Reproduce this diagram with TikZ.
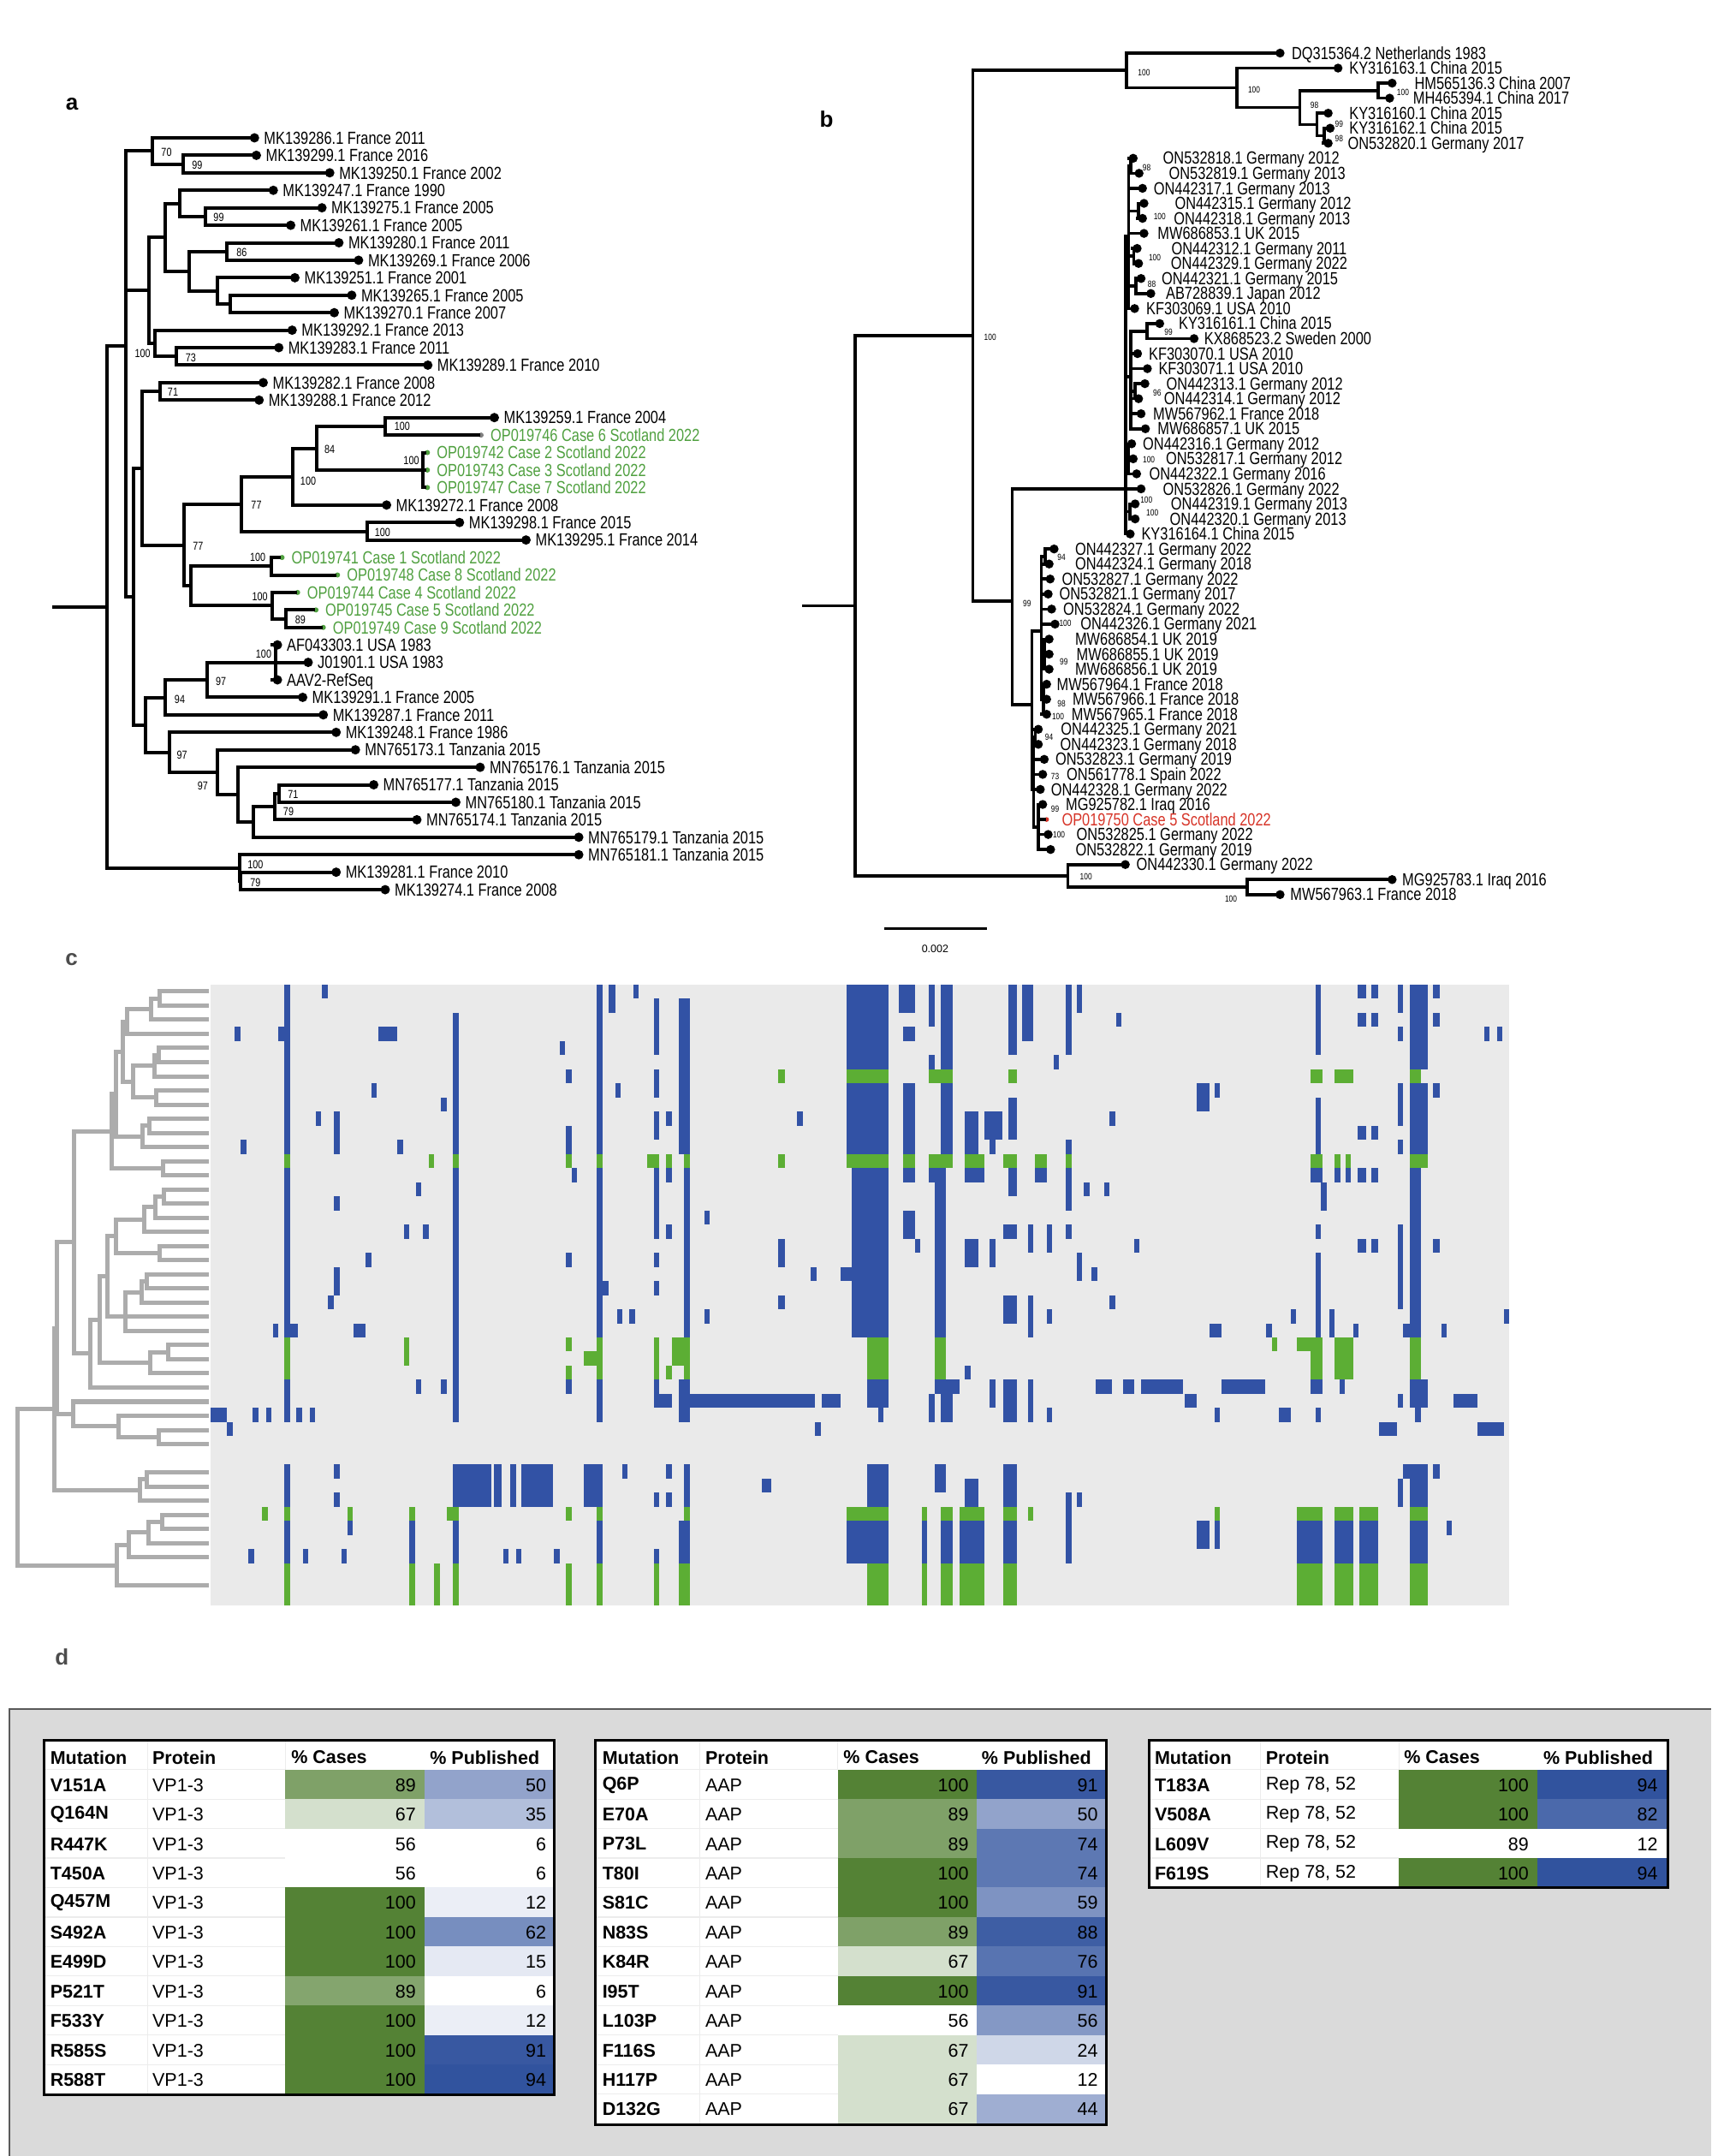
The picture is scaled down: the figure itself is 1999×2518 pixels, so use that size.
\documentclass[tikz,border=0pt]{standalone}
\usepackage{fontspec}
\setmainfont{Liberation Sans}
\newfontfamily\narrowfont[FakeStretch=0.8]{Liberation Sans}
\usetikzlibrary{positioning}

\definecolor{treegreen}{RGB}{80,160,64}
\definecolor{casered}{RGB}{214,52,40}
\definecolor{hblue}{RGB}{50,82,165}
\definecolor{hgreen}{RGB}{92,174,52}
\definecolor{hbg}{RGB}{234,234,234}
\definecolor{dendgray}{RGB}{172,172,172}
\definecolor{casegreen}{RGB}{84,130,53}
\definecolor{pubblue}{RGB}{36,72,152}
\definecolor{boxgray}{RGB}{218,218,218}

\tikzset{
  abranch/.style={line width=4pt, line cap=rect},
  bbranch/.style={line width=3.6pt, line cap=rect},
  cbranch/.style={draw=dendgray, line width=5pt, line cap=rect},
  adot/.style={circle, fill=black, inner sep=0pt, minimum size=11pt},
  gdot/.style={circle, fill=treegreen, inner sep=0pt, minimum size=6pt},
  bdot/.style={circle, fill=black, inner sep=0pt, minimum size=10.5pt},
  leafa/.style={font=\narrowfont\fontsize{20.5}{24}\selectfont, anchor=west, inner sep=0.5pt, text height=16.5pt, text depth=2pt},
  leafb/.style={font=\narrowfont\fontsize{20.5}{24}\selectfont, anchor=west, inner sep=0.3pt, text height=15.5pt, text depth=1.4pt},
  bsa/.style={font=\narrowfont\fontsize{13.5}{16}\selectfont, inner sep=0.75pt},
  bsb/.style={font=\narrowfont\fontsize{10.5}{12}\selectfont, inner sep=0.5pt},
  panellab/.style={font=\bfseries\fontsize{26}{30}\selectfont, inner sep=0.75pt},
  tcell/.style={font=\fontsize{21.5}{25}\selectfont, inner sep=0.75pt},
  tbold/.style={font=\bfseries\fontsize{21.5}{25}\selectfont, inner sep=0.75pt},
}

\begin{document}
\begin{tikzpicture}[x=1pt,y=1pt,yscale=-1]
\useasboundingbox (0,0) rectangle (1999,2518);

%%%%%%%%%%%%%%%%%%%%%%%%%%%%%%%% panel a
\node[panellab] (laba) at (84,122) {a};

% leaves
\foreach \i/\x/\lab in {1/297.3/MK139286.1 France 2011, 2/299.5/MK139299.1 France 2016, 3/385.2/MK139250.1 France 2002, 4/319.3/MK139247.1 France 1990, 5/376.1/MK139275.1 France 2005, 6/339.6/MK139261.1 France 2005, 7/395.9/MK139280.1 France 2011, 8/418.9/MK139269.1 France 2006, 9/344.5/MK139251.1 France 2001, 10/410.9/MK139265.1 France 2005, 11/390.5/MK139270.1 France 2007, 12/341.3/MK139292.1 France 2013, 13/325.7/MK139283.1 France 2011, 14/499.8/MK139289.1 France 2010, 15/307.5/MK139282.1 France 2008, 16/302.7/MK139288.1 France 2012, 17/577.5/MK139259.1 France 2004, 22/451.6/MK139272.1 France 2008, 23/536.8/MK139298.1 France 2015, 24/614.5/MK139295.1 France 2014, 30/324.1/AF043303.1 USA 1983, 31/360/J01901.1 USA 1983, 32/324.1/AAV2-RefSeq, 33/353.6/MK139291.1 France 2005, 34/377.7/MK139287.1 France 2011, 35/392.7/MK139248.1 France 1986, 36/415.2/MN765173.1 Tanzania 2015, 37/560.9/MN765176.1 Tanzania 2015, 38/436.6/MN765177.1 Tanzania 2015, 39/532.5/MN765180.1 Tanzania 2015, 40/487/MN765174.1 Tanzania 2015, 41/676.1/MN765179.1 Tanzania 2015, 42/676.1/MN765181.1 Tanzania 2015, 43/392.7/MK139281.1 France 2010, 44/450/MK139274.1 France 2008}
{
  \node[adot] (a\i) at (\x,{161+20.42*(\i-1)}) {};
  \node[leafa, right=4.7pt of a\i] (ta\i) {\lab};
}
% Scottish cases
\foreach \i/\x/\dc/\lab in {18/562/gray/OP019746 Case 6 Scotland 2022, 19/499.3/treegreen/OP019742 Case 2 Scotland 2022, 20/499.3/treegreen/OP019743 Case 3 Scotland 2022, 21/499.3/treegreen/OP019747 Case 7 Scotland 2022, 25/329.5/treegreen/OP019741 Case 1 Scotland 2022, 26/394.3/treegreen/OP019748 Case 8 Scotland 2022, 27/347.7/treegreen/OP019744 Case 4 Scotland 2022, 28/369.1/treegreen/OP019745 Case 5 Scotland 2022, 29/377.7/treegreen/OP019749 Case 9 Scotland 2022}
{
  \node[gdot, fill=\dc] (a\i) at (\x,{161+20.42*(\i-1)}) {};
  \node[leafa, text=treegreen, right=7.2pt of a\i] (ta\i) {\lab};
}

% internal nodes
\coordinate (ar0) at (62.7,708.8);
\coordinate (ar) at (125.4,708.8);
\coordinate (an163) at (147.3,404);
\coordinate (an220) at (177.9,176.3);
\coordinate (an287) at (213.7,191.6);
\coordinate (an213) at (174.1,339.1);
\coordinate (an248) at (192.9,277.2);
\coordinate (an280) at (210,237.6);
\coordinate (an335) at (239.5,252.9);
\coordinate (an300) at (220.7,316.7);
\coordinate (an383) at (265.2,293.7);
\coordinate (an362) at (253.9,339.7);
\coordinate (an390) at (268.9,355);
\coordinate (an225) at (180.5,401);
\coordinate (an272) at (205.7,416.3);
\coordinate (an180) at (156.4,696.7);
\coordinate (an197) at (165.5,546.8);
\coordinate (an237) at (187,457.1);
\coordinate (an290) at (215.4,636.5);
\coordinate (an415) at (282.3,588.6);
\coordinate (an527) at (342.3,556.7);
\coordinate (an578) at (369.6,523.5);
\coordinate (an727) at (449.5,497.9);
\coordinate (an818) at (494,549);
\coordinate (an688) at (428.6,620.5);
\coordinate (an305) at (223.4,684.3);
\coordinate (an480) at (317.1,661.3);
\coordinate (an482) at (318.2,707.3);
\coordinate (an512) at (334.3,722.6);
\coordinate (an205) at (169.8,846.6);
\coordinate (an248b) at (192.9,814.5);
\coordinate (an340) at (242.1,794);
\coordinate (an493) at (321.5,773.6);
\coordinate (an257) at (197.7,878.6);
\coordinate (an362b) at (253.9,901.9);
\coordinate (an407) at (278,928);
\coordinate (an440) at (295.7,960);
\coordinate (an487) at (320.9,942.1);
\coordinate (an497) at (326.2,926.8);
\coordinate (an410) at (279.6,1013.6);
\coordinate (an413) at (281.2,1028.9);

\draw[abranch] (ar0) -- (ar);
\foreach \p/\ch in {ar/an163, ar/an410, an163/an220, an163/an213, an163/an180, an220/a1, an220/an287, an287/a2, an287/a3, an213/an248, an213/an225, an248/an280, an248/an300, an280/a4, an280/an335, an335/a5, an335/a6, an300/an383, an300/an362, an383/a7, an383/a8, an362/a9, an362/an390, an390/a10, an390/a11, an225/a12, an225/an272, an272/a13, an272/a14, an180/an197, an180/an205, an197/an237, an197/an290, an237/a15, an237/a16, an290/an415, an290/an305, an415/an527, an415/an688, an527/an578, an527/a22, an578/an727, an578/an818, an727/a17, an727/a18, an818/a19, an818/a20, an818/a21, an688/a23, an688/a24, an305/an480, an305/an482, an480/a25, an480/a26, an482/a27, an482/an512, an512/a28, an512/a29, an205/an248b, an205/an257, an248b/an340, an248b/a34, an340/an493, an340/a33, an493/a30, an493/a31, an493/a32, an257/a35, an257/an362b, an362b/a36, an362b/an407, an407/a37, an407/an440, an440/an487, an440/a41, an487/an497, an487/a40, an497/a38, an497/a39, an410/a42, an410/an413, an413/a43, an413/a44}
  \draw[abranch] (\p) |- (\ch);

% bootstrap values
\foreach \x/\y/\v [count=\n] in {194.5/177.7/70, 230.4/193/99, 255.5/254/99, 282.3/295/86, 166.6/413.3/100, 222.9/418.3/73, 202/458.3/71, 469.8/498.3/100, 480.5/538.3/100, 385.2/525/84, 360/561.7/100, 299.5/590/77, 446.8/621.7/100, 231.4/638.3/77, 301.1/651/100, 303.7/696.7/100, 350.9/724/89, 308/764/100, 258.2/796/97, 210/816.7/94, 212.7/881.7/97, 236.8/918.3/97, 337/947.7/79, 342.3/928.3/71, 298.4/1010/100, 298.4/1030.7/79}
  \node[bsa] (ba\n) at (\x,\y) {\v};

%%%%%%%%%%%%%%%%%%%%%%%%%%%%%%%% panel b
\node[panellab] (labb) at (965.6,139) {b};

\foreach \i/\x/\tx/\lab in {1/1495.4/1508.6/DQ315364.2 Netherlands 1983, 2/1563.1/1575.8/KY316163.1 China 2015, 3/1626.3/1652.1/HM565136.3 China 2007, 4/1623.4/1650.4/MH465394.1 China 2017, 5/1551.6/1575.8/KY316160.1 China 2015, 6/1553.9/1575.8/KY316162.1 China 2015, 7/1551.6/1574/ON532820.1 Germany 2017, 8/1323.8/1358.2/ON532818.1 Germany 2012, 9/1330.7/1365.1/ON532819.1 Germany 2013, 10/1334.7/1347.3/ON442317.1 Germany 2013, 11/1336.4/1372/ON442315.1 Germany 2012, 12/1334.7/1370.8/ON442318.1 Germany 2013, 13/1336.4/1351.9/MW686853.1 UK 2015, 14/1328.4/1368/ON442312.1 Germany 2011, 15/1330.1/1367.4/ON442329.1 Germany 2022, 16/1333/1356.5/ON442321.1 Germany 2015, 17/1344.4/1361.6/AB728839.1 Japan 2012, 18/1325.5/1338.7/KF303069.1 USA 2010, 19/1354.8/1376.6/KY316161.1 China 2015, 20/1394.9/1406.4/KX868523.2 Sweden 2000, 21/1328.9/1341.6/KF303070.1 USA 2010, 22/1340.4/1353/KF303071.1 USA 2010, 23/1337.5/1362.2/ON442313.1 Germany 2012, 24/1330.1/1359.4/ON442314.1 Germany 2012, 25/1333/1346.7/MW567962.1 France 2018, 26/1338.1/1351.9/MW686857.1 UK 2015, 27/1322/1334.7/ON442316.1 Germany 2012, 28/1323.8/1361.6/ON532817.1 Germany 2012, 29/1327.8/1342.1/ON442322.1 Germany 2016, 30/1333/1358.2/ON532826.1 Germany 2022, 31/1326.1/1367.4/ON442319.1 Germany 2013, 32/1326.1/1366.2/ON442320.1 Germany 2013, 33/1320.3/1333/KY316164.1 China 2015, 34/1231.4/1255.5/ON442327.1 Germany 2022, 35/1225.6/1255.5/ON442324.1 Germany 2018, 36/1226.8/1240/ON532827.1 Germany 2022, 37/1224.5/1237.1/ON532821.1 Germany 2017, 38/1228.5/1241.7/ON532824.1 Germany 2022, 39/1232.5/1261.8/ON442326.1 Germany 2021, 40/1225.6/1255.5/MW686854.1 UK 2019, 41/1225.6/1257.2/MW686855.1 UK 2019, 42/1225.6/1255.5/MW686856.1 UK 2019, 43/1222.7/1234.2/MW567964.1 France 2018, 44/1222.7/1252.6/MW567966.1 France 2018, 45/1222.7/1251.4/MW567965.1 France 2018, 46/1213/1238.8/ON442325.1 Germany 2021, 47/1213/1238.2/ON442323.1 Germany 2018, 48/1219.9/1232.5/ON532823.1 Germany 2019, 49/1218.1/1245.7/ON561778.1 Spain 2022, 50/1215.3/1227.3/ON442328.1 Germany 2022, 51/1218.1/1244.6/MG925782.1 Iraq 2016, 53/1224.5/1257.2/ON532825.1 Germany 2022, 54/1227.3/1256/ON532822.1 Germany 2019, 55/1314.6/1327.2/ON442330.1 Germany 2022, 56/1626.3/1637.7/MG925783.1 Iraq 2016, 57/1495.4/1506.9/MW567963.1 France 2018}
{
  \node[bdot] (b\i) at (\x,{62+17.55*(\i-1)}) {};
  \node[leafb] (tb\i) at (\tx,{62+17.55*(\i-1)}) {\lab};
}
\node[circle, fill=casered, inner sep=0pt, minimum size=5.5pt] (b52) at (1222.7,957.1) {};
\node[leafb, text=casered] (tb52) at (1240,957.1) {OP019750 Case 5 Scotland 2022};

\coordinate (br0) at (938.6,707.3);
\coordinate (br) at (998.9,707.3);
\coordinate (bA) at (1136.6,391.7);
\coordinate (bB) at (1315.7,82);
\coordinate (bC) at (1444.9,102.7);
\coordinate (bD) at (1518.4,125.4);
\coordinate (bE) at (1610.2,105.9);
\coordinate (bF) at (1538.4,145.4);
\coordinate (bG) at (1547,158.5);
\coordinate (bH) at (1182.6,701.7);
\coordinate (bI) at (1315,571);
\coordinate (bJ) at (1318.5,276);
\coordinate (bq1) at (1321,193.6);
\coordinate (bq2) at (1330,246.3);
\coordinate (bq3) at (1324.5,298.9);
\coordinate (bq4) at (1327,334);
\coordinate (bK) at (1321,440);
\coordinate (bq5) at (1340,386.7);
\coordinate (bq6) at (1326,456.9);
\coordinate (bq7) at (1318.5,535.9);
\coordinate (bq8) at (1320,597.3);
\coordinate (bL) at (1205.5,822.7);
\coordinate (bM) at (1216.5,737);
\coordinate (bq9) at (1221,649.9);
\coordinate (bq11) at (1220,764);
\coordinate (bq12) at (1219,816.7);
\coordinate (bN) at (1207.5,922);
\coordinate (bq13) at (1209.5,860.5);
\coordinate (bq14) at (1213,965.8);
\coordinate (bR) at (1247.4,1022.9);
\coordinate (bS) at (1457,1036);

\draw[bbranch] (br0) -- (br);
\foreach \p/\ch in {br/bA, br/bR, bA/bB, bA/bH, bB/b1, bB/bC, bC/b2, bC/bD, bD/bE, bD/bF, bE/b3, bE/b4, bF/b5, bF/bG, bG/b6, bG/b7, bH/bI, bH/bL, bI/bJ, bI/bK, bI/bq7, bI/b30, bI/bq8, bI/b33, bJ/bq1, bJ/b10, bJ/bq2, bJ/b13, bJ/bq3, bJ/bq4, bJ/b18, bq1/b8, bq1/b9, bq2/b11, bq2/b12, bq3/b14, bq3/b15, bq4/b16, bq4/b17, bK/bq5, bK/b21, bK/b22, bK/bq6, bK/b25, bK/b26, bq5/b19, bq5/b20, bq6/b23, bq6/b24, bq7/b27, bq7/b28, bq7/b29, bq8/b31, bq8/b32, bL/bM, bL/bN, bM/bq9, bM/b36, bM/b37, bM/b38, bM/b39, bM/bq11, bM/bq12, bq9/b34, bq9/b35, bq11/b40, bq11/b41, bq11/b42, bq12/b43, bq12/b44, bq12/b45, bN/bq13, bN/b48, bN/b49, bN/b50, bN/bq14, bq13/b46, bq13/b47, bq14/b51, bq14/b52, bq14/b53, bq14/b54, bR/b55, bR/bS, bS/b56, bS/b57}
  \draw[bbranch] (\p) |- (\ch);

\foreach \x/\y/\v [count=\n] in {1156.7/393.5/100, 1336.4/84.5/100, 1465/104.5/100, 1638.9/107.4/100, 1535.6/122.7/98, 1564.3/144.5/99, 1564.3/161.6/98, 1339.5/195.5/98, 1354.8/252.5/100, 1349/300.8/100, 1345.6/331.7/88, 1365.1/388/99, 1351.9/459/96, 1342.1/537.1/100, 1339.3/584.3/100, 1346.2/599.3/100, 1199.8/704.4/99, 1240/651/94, 1244.5/727.7/100, 1242.8/773.3/99, 1240/821.7/98, 1236/836.9/100, 1225.6/860.5/94, 1232.5/907.2/73, 1232.5/944.4/99, 1237.1/974.8/100, 1268.7/1023.5/100, 1438/1049.8/100}
  \node[bsb] (bb\n) at (\x,\y) {\v};

% scale bar
\coordinate (sb1) at (1033.3,1084.6);
\coordinate (sb2) at (1152.7,1084.6);
\draw[line width=3.4pt] (sb1) -- (sb2);
\node[font=\fontsize{12.5}{14}\selectfont, inner sep=0.75pt] (sblab) at (1092.4,1107.7) {0.002};

%%%%%%%%%%%%%%%%%%%%%%%%%%%%%%%% panel c
\node[panellab, text=black!70] (labc) at (83.5,1121) {c};

% heatmap
\fill[hbg] (245.5,1150) rectangle (1763.3,1875.1);
\foreach \xa/\xb/\ra/\rb in {332.3/339.3/0/11, 332.3/339.3/13/24, 332.3/339.3/28/30, 332.3/339.3/34/36, 332.3/339.3/38/40, 376.3/382.7/0/0, 274.3/280.6/3/3, 325.3/339.3/3/3, 442/463.7/3/3, 245.5/264.7/30/30, 264.7/272.3/31/31, 280.6/288.3/11/11, 295.3/301.7/30/30, 310.6/317/30/30, 346.3/352.7/30/30, 361.6/368/30/30, 368.6/375/9/9, 390.3/396.7/9/11, 390.3/396.7/15/15, 390.3/396.7/20/21, 383/390.3/22/22, 433.7/440/7/7, 464.3/470.7/11/11, 427.3/433.7/19/19, 472/478.3/17/17, 486/492.4/14/14, 486/492.4/28/28, 494.3/500.7/17/17, 515.3/521.7/8/8, 515.3/521.7/28/28, 318.9/325.3/24/24, 339.3/347.6/24/24, 413.3/427.3/24/24, 529.4/535.8/2/11, 529.4/535.8/13/30, 529.4/535.8/38/40, 529.4/574/34/36, 577.2/585.5/34/36, 596.3/602.7/34/36, 609/645.5/34/36, 390.3/396.7/34/34, 390.3/396.7/36/36, 405.6/412/38/38, 478.3/484.7/38/40, 290.2/296.6/40/40, 354/360.4/40/40, 398.6/405/40/40, 588/594.4/40/40, 602.7/609.1/40/40, 647.4/653.7/40/40, 653.7/660.1/4/4, 661.4/667.8/6/6, 661.4/667.8/10/11, 667.8/674.2/13/13, 661.4/667.8/19/19, 661.4/667.8/28/28, 697/704.1/0/11, 697/704.1/13/24, 697/704.1/28/30, 701.6/711.2/21/21, 682.4/704.1/34/36, 697/704.1/38/40, 711/718.8/0/1, 739.8/746.2/0/0, 718.8/725.2/7/7, 720.7/727.1/23/23, 735.4/741.8/23/23, 727.1/733.4/34/34, 763.5/769.8/1/4, 763.5/769.8/6/7, 763.5/769.8/9/10, 763.5/769.8/13/17, 763.5/769.8/19/19, 763.5/769.8/21/21, 763.5/769.8/28/29, 763.5/769.8/36/36, 763.5/769.8/40/40, 778.1/784.5/9/9, 778.1/784.5/13/13, 778.1/784.5/17/17, 770/784.5/29/29, 778.1/784.5/34/34, 778.1/784.5/36/36, 792.8/805.5/1/11, 799/805.5/13/24, 792.8/805.5/28/30, 799/805.5/34/36, 792.8/805.5/38/40, 805.5/952.2/29/29, 960/982/29/29, 822.8/829.2/16/16, 822.8/829.2/23/23, 908.9/916.5/18/19, 908.9/916.5/22/22, 931.2/937.5/9/9, 947.2/953.5/20/20, 952.2/958.6/31/31, 982.2/1000/20/20, 889.7/901.2/35/35, 988.6/1038.2/0/5, 988.6/1038.2/7/11, 995/1038.2/13/24, 1012.7/1038.2/28/29, 1025.5/1032/30/30, 1012.7/1038.2/34/36, 988.6/1038.2/38/40, 1049.7/1068.8/0/1, 1055.1/1068.8/3/3, 1055.1/1068.8/7/11, 1055.1/1068.8/13/13, 1055.1/1068.8/16/17, 1068.8/1075.2/18/18, 1076.5/1082.8/38/40, 1084.7/1092.4/0/2, 1084.7/1092.4/5/5, 1084.7/1092.4/13/13, 1084.7/1092.4/29/30, 1098.8/1113.4/0/11, 1092.4/1105.1/13/24, 1092.4/1121/28/28, 1098.8/1113.4/29/30, 1092.4/1105.1/34/35, 1098.8/1113.4/38/40, 1127.4/1143.3/9/11, 1127.4/1149.7/13/13, 1127.4/1143.3/18/19, 1127.4/1133.8/27/27, 1127.4/1143.3/35/36, 1121/1149.7/38/40, 1149.7/1170.7/9/10, 1156.1/1162.5/11/11, 1156.1/1162.5/18/19, 1156.1/1162.5/28/29, 1178.4/1188/0/4, 1178.4/1188/8/10, 1178.4/1188/13/14, 1172/1188/17/17, 1172/1188/22/23, 1172/1188/28/30, 1172/1188/34/36, 1172/1188/38/40, 1194.3/1207.1/0/3, 1200.7/1207.1/17/18, 1200.7/1207.1/22/24, 1200.7/1207.1/28/30, 1209/1223/13/13, 1223/1229.4/17/18, 1223/1229.4/23/23, 1223/1229.4/30/30, 1230.6/1237/5/5, 1245.3/1251.7/0/4, 1245.3/1251.7/11/11, 1245.3/1251.7/13/15, 1245.3/1251.7/17/17, 1245.3/1251.7/36/40, 1258/1264.4/0/1, 1258/1264.4/19/20, 1258/1264.4/36/36, 1266.3/1272.7/14/14, 1290/1296.3/14/14, 1275.2/1281.6/20/20, 1296.3/1302.6/9/9, 1296.3/1302.6/22/22, 1303.9/1310.3/2/2, 1325/1331.3/18/18, 1280/1299.4/28/28, 1312/1325/28/28, 1332.6/1382.3/28/28, 1383.5/1398.2/29/29, 1426.9/1477.8/28/28, 1419/1425/30/30, 1493.8/1507.8/30/30, 1398.2/1412.8/7/8, 1419/1425/7/7, 1412.8/1426.9/24/24, 1398.2/1412.8/38/39, 1419/1425/38/39, 1479/1485.5/24/24, 1507.8/1514.1/23/23, 1514.8/1544.7/38/40, 1537/1543.4/0/4, 1537/1543.4/8/11, 1531/1544.7/13/13, 1543.4/1550/14/15, 1537/1543.4/17/17, 1537/1543.4/19/24, 1531/1544.7/28/28, 1537/1543.4/30/30, 1553/1559.4/23/24, 1558.7/1566/13/13, 1572/1578/13/13, 1565/1571/28/28, 1558.7/1581/38/40, 1581/1587.4/24/24, 1586.1/1595.7/0/0, 1586.1/1595.7/2/2, 1586.1/1595.7/10/10, 1586.1/1595.7/13/13, 1586.1/1595.7/18/18, 1602/1609.7/0/0, 1602/1609.7/2/2, 1602/1609.7/10/10, 1602/1609.7/13/13, 1602/1609.7/18/18, 1588/1609.7/38/40, 1611/1632/31/31, 1632.6/1639/0/1, 1632.6/1639/3/3, 1632.6/1639/7/9, 1632.6/1639/11/11, 1632.6/1639/17/22, 1632.6/1639/29/29, 1632.6/1639/35/36, 1639/1646.7/24/24, 1639/1646.7/34/34, 1646.7/1667.8/0/5, 1646.7/1667.8/7/11, 1646.7/1660/13/24, 1646.7/1667.8/28/29, 1653/1660/30/30, 1646.7/1667.8/34/36, 1646.7/1667.8/38/40, 1674/1681.7/0/0, 1674/1681.7/2/2, 1674/1681.7/7/7, 1674/1681.7/18/18, 1674/1681.7/34/34, 1683.6/1690/24/24, 1690/1696.3/38/38, 1697.6/1726.3/29/29, 1726.3/1757/31/31, 1734/1740.3/3/3, 1748.6/1755/3/3, 1756.9/1763.3/23/23}
  \fill[hblue] (\xa,{1150+16.48*\ra}) rectangle (\xb,{1150+16.48*(\rb+1)});
\foreach \xa/\xb/\ra/\rb in {332.3/339.3/12/12, 332.3/339.3/25/27, 332.3/339.3/37/37, 332.3/339.3/41/43, 529.4/535.8/12/12, 521.7/535.8/37/37, 529.4/535.8/41/43, 500.7/507/12/12, 472/478.3/25/26, 306.1/312.5/37/37, 405.6/412/37/37, 478.3/484.7/37/37, 478.3/484.7/41/43, 507/514/41/43, 661.4/667.8/12/12, 661.4/667.8/25/25, 661.4/667.8/27/27, 661.4/667.8/37/37, 661.4/667.8/41/43, 697/704.1/12/12, 682.4/704.1/26/26, 697/704.1/25/27, 697/704.1/37/37, 697/704.1/41/43, 755.8/769.8/12/12, 763.5/769.8/25/27, 763.5/769.8/41/43, 778.1/784.5/12/12, 778.1/784.5/27/27, 785/805.5/25/26, 799/805.5/12/12, 799/805.5/27/27, 799/805.5/37/37, 792.8/805.5/41/43, 908.9/916.5/6/6, 908.9/916.5/12/12, 988.6/1038.2/6/6, 988.6/1038.2/12/12, 1012.7/1038.2/25/27, 988.6/1038.2/37/37, 1012.7/1038.2/41/43, 1055.1/1068.8/12/12, 1076.5/1082.8/37/37, 1076.5/1082.8/41/43, 1084.7/1113.4/6/6, 1084.7/1113.4/12/12, 1092.4/1105.1/25/27, 1098.8/1113.4/37/37, 1098.8/1113.4/41/43, 1127.4/1149.7/12/12, 1121/1149.7/37/37, 1121/1149.7/41/43, 1172/1188/12/12, 1178.4/1188/6/6, 1172/1188/37/37, 1172/1188/41/43, 1200.7/1207.1/37/37, 1209/1223/12/12, 1245.3/1251.7/12/12, 1419/1425/37/37, 1485.5/1492/25/25, 1514.8/1544.7/37/37, 1514.8/1544.7/25/25, 1531/1544.7/26/27, 1514.8/1544.7/41/43, 1531/1544.7/6/6, 1531/1544.7/12/12, 1558.7/1581/6/6, 1558.7/1566/12/12, 1572/1578/12/12, 1558.7/1581/25/27, 1558.7/1581/37/37, 1558.7/1581/41/43, 1588/1609.7/37/37, 1588/1609.7/41/43, 1646.7/1660/6/6, 1646.7/1667.8/12/12, 1646.7/1660/25/27, 1646.7/1667.8/37/37, 1646.7/1667.8/41/43}
  \fill[hgreen] (\xa,{1150+16.48*\ra}) rectangle (\xb,{1150+16.48*(\rb+1)});

% dendrogram
\foreach \k in {1,...,33}
  \coordinate (cl\k) at (241.7,{1157.9+16.52*(\k-1)});
\foreach \k in {34,...,40}
  \coordinate (cl\k) at (241.7,{1157.9+16.52*\k});
\coordinate (cl41) at (241.7,1851.7);
\coordinate (c560) at (186.7,1166.2);
\coordinate (c530) at (176.7,1178.6);
\coordinate (c445) at (148.3,1193);
\coordinate (c555) at (185,1232.3);
\coordinate (c540) at (180,1244.6);
\coordinate (c548) at (182.7,1281.8);
\coordinate (c465) at (155,1263.2);
\coordinate (c430) at (143.3,1228.1);
\coordinate (c522) at (174,1314.9);
\coordinate (c500) at (166.7,1327.2);
\coordinate (c405) at (135,1277.7);
\coordinate (c570) at (190,1364.4);
\coordinate (c390) at (130,1321);
\coordinate (c575) at (191.7,1397.5);
\coordinate (c545) at (181.7,1409.8);
\coordinate (c505) at (168.3,1424.3);
\coordinate (c558) at (186,1463.5);
\coordinate (c405b) at (135,1443.9);
\coordinate (c515) at (171.7,1496.6);
\coordinate (c495) at (165,1509);
\coordinate (c440b) at (146.7,1537);
\coordinate (c375) at (125,1490.5);
\coordinate (c590) at (196.7,1579.2);
\coordinate (c525) at (175,1591.5);
\coordinate (c350) at (116.7,1541);
\coordinate (c315) at (105,1580.7);
\coordinate (c260) at (86.7,1450.9);
\coordinate (c555b) at (185,1678.3);
\coordinate (c415) at (138.3,1665.9);
\coordinate (c255) at (85,1651.4);
\coordinate (cA1) at (66.7,1551.2);
\coordinate (c515b) at (171.7,1727.9);
\coordinate (c490) at (163.3,1740.2);
\coordinate (cA) at (63.3,1645.7);
\coordinate (c567) at (189,1777.4);
\coordinate (c520) at (173.3,1789.8);
\coordinate (c450) at (150,1804.2);
\coordinate (cB) at (136.7,1828);
\coordinate (croot) at (20,1736.8);
\foreach \p/\ch in {croot/cA, croot/cB, cA/cA1, cA/c490, cA1/c260, cA1/c255, c260/c390, c260/c315, c390/c405, c390/c570, c405/c430, c405/c500, c430/c445, c430/c465, c445/c530, c445/cl4, c530/c560, c530/cl3, c560/cl1, c560/cl2, c465/c540, c465/c548, c540/c555, c540/cl7, c555/cl5, c555/cl6, c548/cl8, c548/cl9, c500/c522, c500/cl12, c522/cl10, c522/cl11, c570/cl13, c570/cl14, c315/c350, c315/cl29, c350/c375, c350/c525, c375/c405b, c375/c440b, c405b/c505, c405b/c558, c505/c545, c505/cl18, c545/c575, c545/cl17, c575/cl15, c575/cl16, c558/cl19, c558/cl20, c440b/c495, c440b/cl24, c440b/cl25, c495/c515, c495/cl23, c515/cl21, c515/cl22, c525/c590, c525/cl28, c590/cl26, c590/cl27, c255/cl30, c255/c415, c415/cl31, c415/c555b, c555b/cl32, c555b/cl33, c490/c515b, c490/cl36, c515b/cl34, c515b/cl35, cB/c450, cB/cl41, c450/c520, c450/cl40, c520/c567, c520/cl39, c567/cl37, c567/cl38}
  \draw[cbranch] (\p) |- (\ch);

%%%%%%%%%%%%%%%%%%%%%%%%%%%%%%%% panel d
\node[panellab, text=black!70] (labd) at (72.3,1935) {d};
\fill[boxgray] (11,1996) rectangle (1999,2518);
\draw[line width=1.6pt, black!65] (11,2518) -- (11,1996) -- (1999,1996);

% table VP1-3
\fill[white] (51.1,2032.3) rectangle (647,2446.7);
\foreach \i/\mu/\cv/\cp/\pv/\pp in {1/V151A/89/75/50/50, 2/Q164N/67/25/35/35, 3/R447K/56/0/6/0, 4/T450A/56/0/6/0, 5/Q457M/100/100/12/9, 6/S492A/100/100/62/62, 7/E499D/100/100/15/12, 8/P521T/89/72/6/0, 9/F533Y/100/100/12/9, 10/R585S/100/100/91/91, 11/R588T/100/100/94/94}
{
  \pgfmathsetmacro\ya{2066.7+34.44*(\i-1)}
  \fill[casegreen!\cp!white] (333.4,\ya) rectangle (495.9,{\ya+34.44});
  \fill[pubblue!\pp!white] (495.9,\ya) rectangle (645.5,{\ya+34.44});
  \draw[gray!15, line width=1.2pt] (51.1,\ya) -- (333.4,\ya);
  \node[tbold, anchor=west] (t1m\i) at (57.8,{\ya+18}) {\mu};
  \node[tcell, anchor=west] (t1p\i) at (177.2,{\ya+18}) {VP1-3};
  \node[tcell, anchor=east] (t1c\i) at (486.8,{\ya+18}) {\cv};
  \node[tcell, anchor=east] (t1u\i) at (639,{\ya+18}) {\pv};
}
\draw[gray!15, line width=1.2pt] (172.5,2032.3) -- (172.5,2446.7) (333.4,2032.3) -- (333.4,2066.7);
\node[tbold, anchor=west] (t1hm) at (57.8,2052.3) {Mutation};
\node[tbold, anchor=west] (t1hp) at (177.2,2052.3) {Protein};
\node[tbold, anchor=west] (t1hc) at (339.3,2052.3) {\% Cases};
\node[tbold, anchor=west] (t1hu) at (501.4,2052.3) {\% Published};
\draw[line width=3pt] (51.1,2032.3) rectangle (647,2446.7);

% table AAP
\fill[white] (695.8,2032.3) rectangle (1292.3,2481.7);
\foreach \i/\mu/\cv/\cp/\pv/\pp in {1/Q6P/100/100/91/91, 2/E70A/89/75/50/50, 3/P73L/89/75/74/74, 4/T80I/100/100/74/74, 5/S81C/100/100/59/59, 6/N83S/89/75/88/88, 7/K84R/67/25/76/76, 8/I95T/100/100/91/91, 9/L103P/56/0/56/56, 10/F116S/67/25/24/22, 11/H117P/67/25/12/0, 12/D132G/67/25/44/44}
{
  \pgfmathsetmacro\ya{2066.7+34.44*(\i-1)}
  \fill[casegreen!\cp!white] (978.7,\ya) rectangle (1140.6,{\ya+34.44});
  \fill[pubblue!\pp!white] (1140.6,\ya) rectangle (1290.8,{\ya+34.44});
  \draw[gray!15, line width=1.2pt] (695.8,\ya) -- (978.7,\ya);
  \node[tbold, anchor=west] (t2m\i) at (702.8,{\ya+18}) {\mu};
  \node[tcell, anchor=west] (t2p\i) at (823.1,{\ya+18}) {AAP};
  \node[tcell, anchor=east] (t2c\i) at (1132.4,{\ya+18}) {\cv};
  \node[tcell, anchor=east] (t2u\i) at (1283.4,{\ya+18}) {\pv};
}
\draw[gray!15, line width=1.2pt] (817.6,2032.3) -- (817.6,2481.7) (978.7,2032.3) -- (978.7,2066.7);
\node[tbold, anchor=west] (t2hm) at (702.8,2052.3) {Mutation};
\node[tbold, anchor=west] (t2hp) at (823.1,2052.3) {Protein};
\node[tbold, anchor=west] (t2hc) at (984.5,2052.3) {\% Cases};
\node[tbold, anchor=west] (t2hu) at (1146,2052.3) {\% Published};
\draw[line width=3pt] (695.8,2032.3) rectangle (1292.3,2481.7);

% table Rep
\fill[white] (1342,2032.3) rectangle (1948,2204.4);
\foreach \i/\mu/\cv/\cp/\pv/\pp in {1/T183A/100/100/94/94, 2/V508A/100/100/82/82, 3/L609V/89/0/12/0, 4/F619S/100/100/94/94}
{
  \pgfmathsetmacro\ya{2066.7+34.44*(\i-1)}
  \fill[casegreen!\cp!white] (1634.2,\ya) rectangle (1796,{\ya+34.44});
  \fill[pubblue!\pp!white] (1796,\ya) rectangle (1946.5,{\ya+34.44});
  \draw[gray!15, line width=1.2pt] (1342,\ya) -- (1634.2,\ya);
  \node[tbold, anchor=west] (t3m\i) at (1348.1,{\ya+18}) {\mu};
  \node[tcell, anchor=west] (t3p\i) at (1477.9,{\ya+18}) {Rep 78, 52};
  \node[tcell, anchor=east] (t3c\i) at (1786.8,{\ya+18}) {\cv};
  \node[tcell, anchor=east] (t3u\i) at (1937.5,{\ya+18}) {\pv};
}
\draw[gray!15, line width=1.2pt] (1472.6,2032.3) -- (1472.6,2204.4) (1634.2,2032.3) -- (1634.2,2066.7);
\node[tbold, anchor=west] (t3hm) at (1348.1,2052.3) {Mutation};
\node[tbold, anchor=west] (t3hp) at (1477.9,2052.3) {Protein};
\node[tbold, anchor=west] (t3hc) at (1639.4,2052.3) {\% Cases};
\node[tbold, anchor=west] (t3hu) at (1802.1,2052.3) {\% Published};
\draw[line width=3pt] (1342,2032.3) rectangle (1948,2204.4);

\end{tikzpicture}
\end{document}
